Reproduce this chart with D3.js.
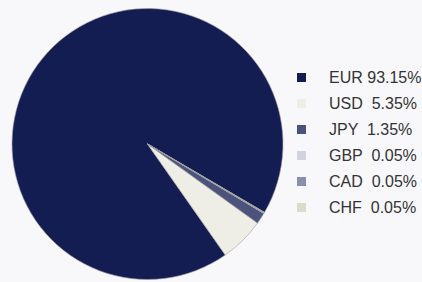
<!DOCTYPE html>
<html><head><meta charset="utf-8">
<script src="https://cdn.jsdelivr.net/npm/d3@7"></script>
<style>html,body{margin:0;padding:0;background:#f8f8fb;}svg{display:block;}</style>
</head><body><svg id="c" width="422" height="282"></svg>
<script>
const categories = ["EUR","USD","JPY","GBP","CAD","CHF"];
const values = [93.15, 5.35, 1.35, 0.05, 0.05, 0.05];
const valueLabels = ["93.15%", " 5.35%", " 1.35%", " 0.05%", " 0.05%", " 0.05%"];
const colors = ["#141d52","#eeeee6","#4b527c","#d0d2de","#8a8fab","#dcdccb"];

const svg = d3.select("#c");
const W = 422, H = 282;
svg.append("rect").attr("width", W).attr("height", H).attr("fill", "#f8f8fb");

const cx = 147.5, cy = 144, r = 135.5;
const a0 = 120.3 * Math.PI / 180;
const pie = d3.pie().sort(null).value(d => d.v).startAngle(a0).endAngle(a0 - 2 * Math.PI);
const data = categories.map((c, i) => ({c, v: values[i], col: colors[i], lab: valueLabels[i]}));
const arc = d3.arc().innerRadius(0).outerRadius(r);
const g = svg.append("g").attr("transform", `translate(${cx},${cy})`);
g.selectAll("path").data(pie(data)).join("path")
  .attr("d", arc)
  .attr("fill", d => d.data.col)
  .attr("stroke", "#a0a0a0")
  .attr("stroke-width", 0.6)
  .attr("stroke-linejoin", "round");

const color = d3.scaleOrdinal().domain(categories).range(colors);
const y = d3.scalePoint().domain(categories).range([77.5, 207.5]);
const lg = svg.append("g");
const rows = lg.selectAll("g").data(data).join("g")
  .attr("transform", d => `translate(0,${y(d.c)})`);
rows.append("rect").attr("x", 297).attr("y", -4.5).attr("width", 9).attr("height", 9)
  .attr("fill", d => color(d.c));
rows.append("text").attr("x", 329).attr("y", 0).attr("dy", "0.36em")
  .attr("font-family", "Liberation Sans, Arial, sans-serif").attr("font-size", 16)
  .attr("fill", "#333").style("white-space", "pre")
  .text(d => d.c + " " + d.lab);
</script></body></html>
